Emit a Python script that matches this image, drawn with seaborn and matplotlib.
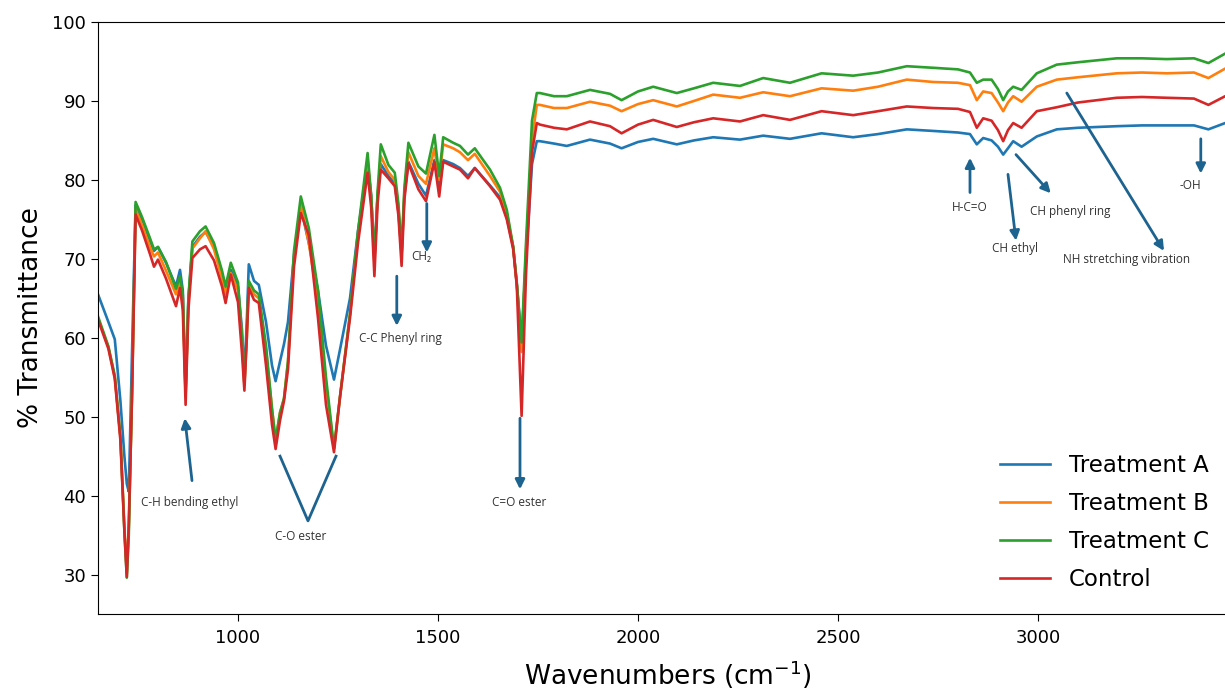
import numpy as np
import pandas as pd
import matplotlib
matplotlib.use("Agg")
import matplotlib.pyplot as plt
import seaborn as sns

# --- data (wavenumber in cm-1, % transmittance) ---
wavenumbers = [
    650, 676, 692, 706, 716, 722, 727, 735, 744, 760, 780, 790, 800, 820, 845, 855,
    862, 869, 876, 886, 905, 919, 940, 960, 969, 982, 1000, 1010, 1016, 1022, 1027,
    1040, 1052, 1070, 1085, 1094, 1105, 1115, 1125, 1140, 1157, 1177, 1200, 1220,
    1240, 1255, 1280, 1300, 1324, 1333, 1341, 1349, 1357, 1376, 1392, 1401, 1409,
    1416, 1426, 1451, 1470, 1491, 1503, 1513, 1538, 1555, 1575, 1592, 1630, 1655,
    1672, 1688, 1697, 1709, 1720, 1735, 1747, 1755, 1790, 1822, 1880, 1930, 1959,
    2000, 2038, 2097, 2140, 2188, 2255, 2313, 2380, 2459, 2538, 2600, 2672, 2738,
    2800, 2830, 2847, 2863, 2884, 2900, 2913, 2925, 2938, 2959, 2997, 3047, 3100,
    3197, 3260, 3322, 3390, 3426, 3468, 3500,
]
treatment_a = [
    65.5, 62.0, 59.8, 52.0, 45.0, 41.5, 40.5, 58.0, 76.8, 75.0, 72.3, 71.0, 71.5, 69.5, 66.5, 68.6,
    66.0, 53.5, 65.0, 71.5, 72.8, 73.4, 71.5, 68.0, 65.8, 68.6, 66.5, 61.0, 55.0, 62.0, 69.3,
    67.2, 66.7, 62.0, 56.5, 54.5, 57.0, 59.2, 62.0, 70.5, 76.5, 72.0, 66.0, 59.0,
    54.7, 58.5, 65.0, 73.5, 82.0, 78.0, 70.0, 78.0, 82.0, 80.5, 79.5, 76.0, 70.5,
    78.0, 82.3, 79.5, 78.0, 82.5, 79.0, 82.5, 82.0, 81.5, 80.5, 81.5, 79.3, 77.8,
    75.2, 71.5, 66.8, 59.4, 70.0, 82.0, 84.9, 84.9, 84.6, 84.3, 85.1, 84.6, 84.0,
    84.8, 85.2, 84.5, 85.0, 85.4, 85.1, 85.6, 85.2, 85.9, 85.4, 85.8, 86.4, 86.2,
    86.0, 85.8, 84.5, 85.3, 85.0, 84.2, 83.2, 84.0, 84.9, 84.2, 85.5, 86.4, 86.6,
    86.8, 86.9, 86.9, 86.9, 86.4, 87.2, 87.4,
]
treatment_b = [
    62.5, 58.8, 55.0, 47.5, 36.0, 30.2, 36.0, 53.0, 76.3, 74.3, 71.5, 70.3, 70.8, 68.5, 65.5, 67.2,
    65.0, 52.5, 64.5, 71.3, 72.6, 73.5, 71.2, 67.5, 65.5, 68.2, 66.0, 60.0, 54.0, 60.0, 66.8,
    65.5, 65.0, 58.5, 51.0, 47.0, 50.5, 52.3, 57.0, 70.0, 77.0, 72.0, 64.5, 54.0,
    46.0, 52.5, 63.0, 73.0, 82.5, 77.5, 69.5, 78.0, 83.0, 81.0, 80.0, 76.5, 70.5,
    78.5, 83.5, 80.5, 79.5, 84.0, 80.0, 84.5, 84.0, 83.5, 82.5, 83.3, 80.5, 78.5,
    75.8, 71.5, 66.7, 58.2, 71.0, 85.0, 89.5, 89.5, 89.1, 89.1, 89.9, 89.4, 88.7,
    89.6, 90.1, 89.3, 90.0, 90.8, 90.4, 91.1, 90.6, 91.6, 91.3, 91.8, 92.7, 92.4,
    92.3, 92.0, 90.1, 91.2, 91.0, 89.8, 88.7, 89.8, 90.6, 89.9, 91.8, 92.7, 93.0,
    93.5, 93.6, 93.5, 93.6, 92.9, 94.1, 94.4,
]
treatment_c = [
    62.7, 58.9, 55.2, 47.5, 35.5, 29.6, 35.0, 53.0, 77.2, 75.3, 72.6, 71.2, 71.5, 69.6, 66.2, 67.8,
    65.5, 53.0, 65.0, 72.2, 73.5, 74.1, 72.0, 68.5, 66.5, 69.5, 67.0, 60.0, 54.0, 61.0, 67.2,
    66.0, 65.5, 59.0, 51.0, 47.0, 50.5, 52.3, 57.0, 71.0, 77.9, 73.9, 66.0, 55.0,
    46.0, 52.5, 63.0, 73.5, 83.4, 78.0, 70.0, 78.5, 84.5, 81.9, 80.9, 77.0, 71.0,
    79.0, 84.7, 81.7, 80.8, 85.7, 80.5, 85.4, 84.7, 84.3, 83.2, 84.0, 81.3, 79.0,
    76.2, 71.5, 67.0, 59.4, 72.0, 87.5, 91.0, 91.0, 90.6, 90.6, 91.4, 90.9, 90.1,
    91.2, 91.8, 91.0, 91.6, 92.3, 91.9, 92.9, 92.3, 93.5, 93.2, 93.6, 94.4, 94.2,
    94.0, 93.6, 92.3, 92.7, 92.7, 91.5, 90.1, 91.2, 91.8, 91.4, 93.5, 94.6, 94.9,
    95.4, 95.4, 95.3, 95.4, 94.8, 96.0, 96.3,
]
control = [
    62.3, 58.6, 54.8, 47.0, 35.5, 29.7, 36.5, 52.5, 75.6, 73.6, 70.6, 69.0, 69.9, 67.5, 64.0, 66.3,
    63.5, 51.5, 63.5, 70.1, 71.2, 71.6, 69.8, 66.5, 64.4, 68.0, 64.5, 58.0, 53.3, 60.0, 66.3,
    64.8, 64.4, 56.5, 49.0, 45.9, 49.5, 52.0, 56.0, 69.0, 75.8, 73.0, 62.5, 51.5,
    45.5, 52.5, 62.5, 72.0, 80.9, 76.5, 67.8, 77.0, 81.3, 80.2, 79.2, 75.5, 69.1,
    77.5, 82.1, 78.8, 77.3, 82.3, 77.9, 82.3, 81.7, 81.3, 80.2, 81.5, 79.2, 77.5,
    75.0, 71.2, 66.6, 50.1, 68.0, 83.5, 87.2, 87.0, 86.6, 86.4, 87.4, 86.8, 85.9,
    87.0, 87.6, 86.7, 87.3, 87.8, 87.4, 88.2, 87.6, 88.7, 88.2, 88.7, 89.3, 89.1,
    89.0, 88.6, 86.6, 87.8, 87.5, 86.3, 84.9, 86.3, 87.2, 86.6, 88.7, 89.2, 89.8,
    90.4, 90.5, 90.4, 90.3, 89.5, 90.6, 90.8,
]
series_names = ["Treatment A", "Treatment B", "Treatment C", "Control"]

# peak labels: (text, text x, text y, arrow tail, arrow tip) in data coords
peak_labels = [
    ("C-H bending ethyl", 880, 39.1, (885, 41.9), (867, 49.8)),
    ("C-C Phenyl ring", 1407, 59.9, (1397, 67.8), (1397, 61.5)),
    ("CH\u2082", 1457, 70.3, (1472, 77.0), (1472, 70.8)),
    ("C=O ester", 1702, 39.1, (1705, 49.8), (1705, 40.8)),
    ("H-C=O", 2830, 76.5, (2830, 78.4), (2830, 82.8)),
    ("CH ethyl", 2942, 71.3, (2925, 80.7), (2945, 72.3)),
    ("CH phenyl ring", 3080, 76.0, (2945, 83.2), (3032, 78.3)),
    ("NH stretching vibration", 3222, 69.9, (3072, 91.0), (3315, 71.0)),
    ("-OH", 3380, 79.3, (3407, 85.2), (3407, 80.8)),
]

df = pd.DataFrame({
    "wn": wavenumbers * 4,
    "T": treatment_a + treatment_b + treatment_c + control,
    "series": sum([[name] * len(wavenumbers) for name in series_names], []),
})

fig = plt.figure(figsize=(12.25, 6.92), dpi=100)
ax = fig.add_axes([0.080, 0.1127, 0.9306, 0.8555])

sns.lineplot(data=df, x="wn", y="T", hue="series", hue_order=series_names,
             palette=["#1f77b4", "#ff7f0e", "#2ca02c", "#d62728"],
             linewidth=1.9, errorbar=None, sort=False, ax=ax)

ax.set_xlim(650, 3500)
ax.set_ylim(25, 100)
ax.set_xticks([1000, 1500, 2000, 2500, 3000])
ax.set_yticks(np.arange(30, 101, 10))
ax.tick_params(labelsize=13, length=5)
ax.tick_params(axis="x", pad=6)
ax.set_xlabel("Wavenumbers (cm$^{-1}$)", fontsize=19, labelpad=8)
ax.set_ylabel("% Transmittance", fontsize=19, labelpad=6)

arrow_col = "#1d6390"
for text, tx, ty, tail, tip in peak_labels:
    ax.annotate("", xy=tip, xytext=tail,
                arrowprops=dict(arrowstyle="-|>", color=arrow_col, lw=2,
                                mutation_scale=14, shrinkA=0, shrinkB=0))
    ax.text(tx, ty, text, fontsize=8.5, ha="center", va="center",
            family=["Open Sans", "DejaVu Sans"], color="#333333")

# V shaped pointer for the two C-O ester bands
ax.plot([1105, 1175, 1245], [45.0, 36.8, 45.0], color=arrow_col, lw=2)
ax.text(1157, 34.8, "C-O ester", fontsize=8.5, ha="center", va="center",
        family=["Open Sans", "DejaVu Sans"], color="#333333")

ax.legend(fontsize=16.5, frameon=False, loc="upper left",
          bbox_to_anchor=(1000 / 1225, 1 - 454 / 692), bbox_transform=fig.transFigure,
          handlelength=2.2, handletextpad=0.8, labelspacing=0.65,
          borderpad=0, borderaxespad=0)

fig.savefig("out.png", dpi=100)
